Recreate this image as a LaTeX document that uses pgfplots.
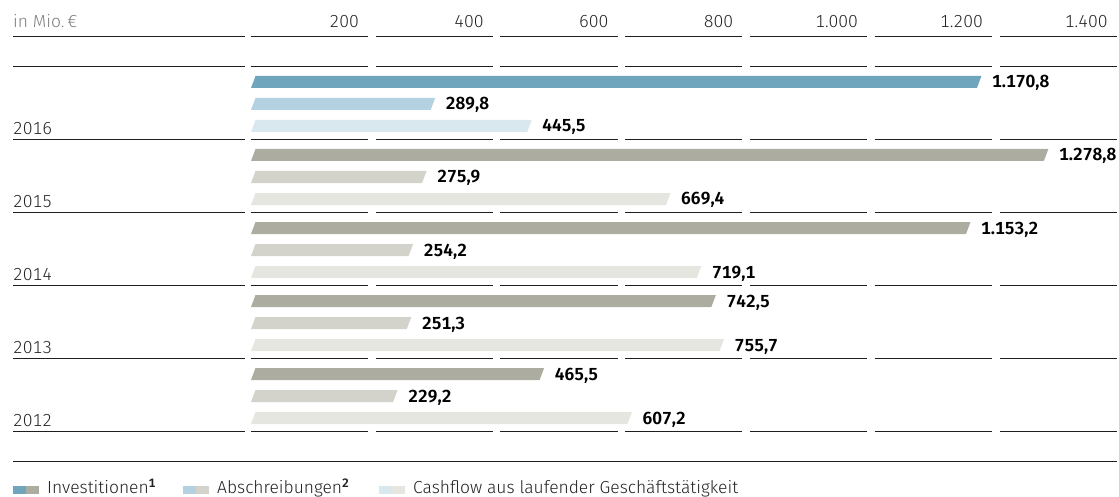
\documentclass[border=0pt]{standalone}
\usepackage{fontspec}
\setmainfont{Fira Sans Light}[BoldFont={Fira Sans SemiBold},Numbers=Monospaced]
\usepackage{pgfplots}
\pgfplotsset{compat=1.18}
\definecolor{bA}{HTML}{6FA6BD}
\definecolor{bB}{HTML}{B3D1E0}
\definecolor{bC}{HTML}{D9E8EF}
\definecolor{gA}{HTML}{ACACA0}
\definecolor{gB}{HTML}{D3D3CB}
\definecolor{gC}{HTML}{E6E6E1}
\definecolor{txt}{HTML}{222222}
\definecolor{rule}{HTML}{1E1E1E}
% slanted bar: value, centre (px from top), colour
\newcommand\sbar[3]{%
  \pgfmathsetmacro\yb{#2+6}\pgfmathsetmacro\yt{#2-6}\pgfmathsetmacro\xr{#1+7.3}%
  \edef\temp{\noexpand\addplot[fill=#3,draw=none] coordinates {(0,\yb) (#1,\yb) (\xr,\yt) (7.3,\yt)} -- cycle;}\temp}
\newcommand\vlab[2]{%
  \pgfmathsetmacro\yb{#2+6}%
  \edef\temp{\noexpand\addplot[draw=none,point meta=x,nodes near coords,
    nodes near coords style={anchor=base west,xshift=15bp,inner sep=0pt,text=black,font=\noexpand\fontsize{17.5}{20}\noexpand\selectfont\noexpand\bfseries}]
    coordinates {(#1,\yb)};}\temp}
\begin{document}
\begin{tikzpicture}
\begin{axis}[
  scale only axis, width=1119bp, height=497bp,
  xmin=-404.8, xmax=1400, ymin=0, ymax=497, y dir=reverse,
  hide axis, clip=false,
  /pgf/number format/assume math mode=true,
  /pgf/number format/.cd, fixed, fixed zerofill, precision=1, use comma, 1000 sep={.},
]
% 2016
\sbar{1170.8}{82}{bA}\sbar{289.8}{104}{bB}\sbar{445.5}{126}{bC}
% 2015
\sbar{1278.8}{155}{gA}\sbar{275.9}{177}{gB}\sbar{669.4}{199}{gC}
% 2014
\sbar{1153.2}{228}{gA}\sbar{254.2}{250}{gB}\sbar{719.1}{272}{gC}
% 2013
\sbar{742.5}{301}{gA}\sbar{251.3}{323}{gB}\sbar{755.7}{345}{gC}
% 2012
\sbar{465.5}{374}{gA}\sbar{229.2}{396}{gB}\sbar{607.2}{418}{gC}
% value labels
\vlab{1170.8}{82}\vlab{289.8}{104}\vlab{445.5}{126}
\vlab{1278.8}{155}\vlab{275.9}{177}\vlab{669.4}{199}
\vlab{1153.2}{228}\vlab{254.2}{250}\vlab{719.1}{272}
\vlab{742.5}{301}\vlab{251.3}{323}\vlab{755.7}{345}
\vlab{465.5}{374}\vlab{229.2}{396}\vlab{607.2}{418}
\end{axis}
\begin{scope}[x=1bp,y=-1bp,shift={(0,497bp)},font=\fontsize{17.5}{20}\selectfont]
  % rules with gaps
  \foreach \yy in {36,66,139,212,285,358,431}{
    \draw[rule,line width=0.9bp] (13,\yy) -- (245,\yy);
    \foreach \n in {0,...,6}{
      \draw[rule,line width=0.9bp] ({250.7+124.8*\n},\yy) -- ({368+124.8*\n},\yy);
    }
  }
  \draw[rule,line width=0.9bp] (13,461) -- (1117,461);
  % header
  \node[anchor=base west,inner sep=0pt,text=black!50] at (13,28) {in Mio.\,€};
  \foreach \n/\t in {0/200,1/400,2/600,3/800,4/1.000,5/1.200,6/1.400}{
    \node[anchor=base east,inner sep=0pt,text=txt] at ({359+124.8*\n},28) {\t};
  }
  % row labels
  \foreach \yy/\t in {139/2016,212/2015,285/2014,358/2013,431/2012}{
    \node[anchor=base west,inner sep=0pt,text=txt] at (13,\yy-4) {\t};
  }
  % legend
  \fill[bA] (13,486) rectangle (26,494); \fill[gA] (26,486) rectangle (39,494);
  \node[anchor=base west,inner sep=0pt,text=txt] at (47,494) {Investitionen\textsuperscript{\bfseries 1}};
  \fill[bB] (183,486) rectangle (196,494); \fill[gB] (196,486) rectangle (209,494);
  \node[anchor=base west,inner sep=0pt,text=txt] at (217,494) {Abschreibungen\textsuperscript{\bfseries 2}};
  \fill[bC] (379,486) rectangle (392,494); \fill[gC] (392,486) rectangle (405,494);
  \node[anchor=base west,inner sep=0pt,text=txt] at (413,494) {Cashflow aus laufender Geschäftstätigkeit};
\end{scope}
\pgfresetboundingbox
\path[use as bounding box] (0,0) rectangle (1119bp,497bp);
\end{tikzpicture}
\end{document}
